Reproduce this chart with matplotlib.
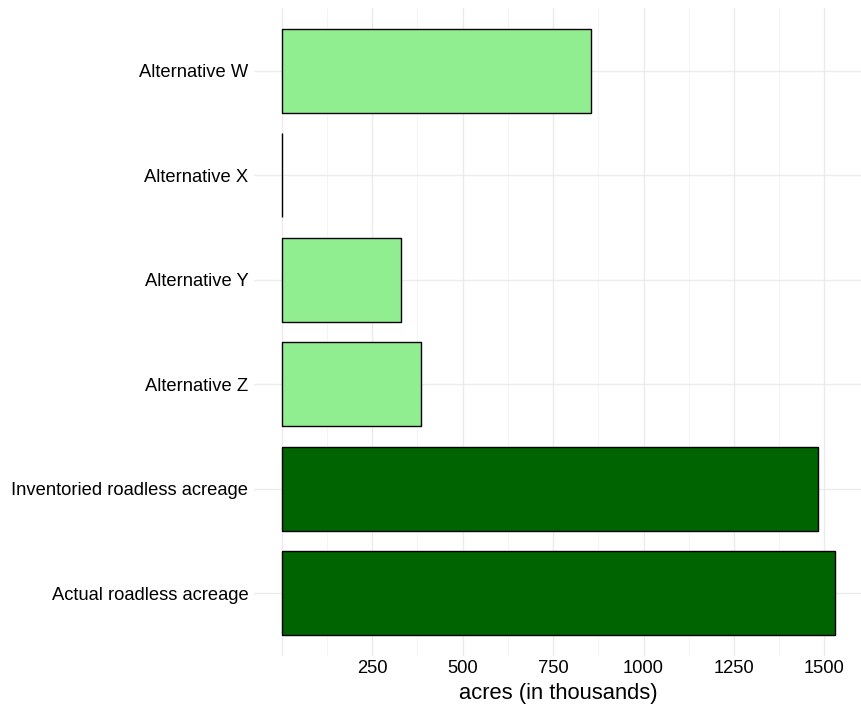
import numpy as np
import matplotlib
matplotlib.use("Agg")
from matplotlib import pyplot as plt

categories = ["Actual roadless acreage", "Inventoried roadless acreage",
              "Alternative Z", "Alternative Y", "Alternative X", "Alternative W"]
acres = [1530, 1481, 384, 329, 0, 856]
colors = ["#006400", "#006400", "#90EE90", "#90EE90", "#90EE90", "#90EE90"]

major_ticks = [0, 250, 500, 750, 1000, 1250, 1500]
major_labels = ["", "250", "500", "750", "1000", "1250", "1500"]
minor_ticks = [125, 375, 625, 875, 1125, 1375]

plt.rcParams['font.family'] = ['Liberation Sans', 'DejaVu Sans']

fig = plt.figure(figsize=(8.61, 7.05), dpi=100)
ax = fig.add_axes([254 / 861, 1 - 656 / 705, 609 / 861, (656 - 8) / 705])

ypos = np.arange(len(categories))
ax.barh(ypos, acres, height=0.8, color=colors, edgecolor="black", linewidth=1.0, zorder=3)

xmax = max(acres)
ax.set_xlim(-0.05 * xmax, 1.05 * xmax)
ax.set_ylim(-0.6, len(categories) - 1 + 0.6)

ax.set_yticks(ypos)
ax.set_yticklabels(categories, fontsize=13.2, color="black")
ax.set_xticks(major_ticks)
ax.set_xticklabels(major_labels, fontsize=13.2, color="black")
ax.set_xticks(minor_ticks, minor=True)
ax.tick_params(axis="both", which="both", length=0, pad=3)
ax.tick_params(axis="y", pad=4)

ax.grid(True, which="major", color="#ebebeb", linewidth=1.0, zorder=0)
ax.grid(True, which="minor", axis="x", color="#f3f3f3", linewidth=0.6, zorder=0)
for s in ax.spines.values():
    s.set_visible(False)

ax.set_xlabel("acres (in thousands)", fontsize=15.8, labelpad=4)

fig.savefig("out.png", dpi=100)
